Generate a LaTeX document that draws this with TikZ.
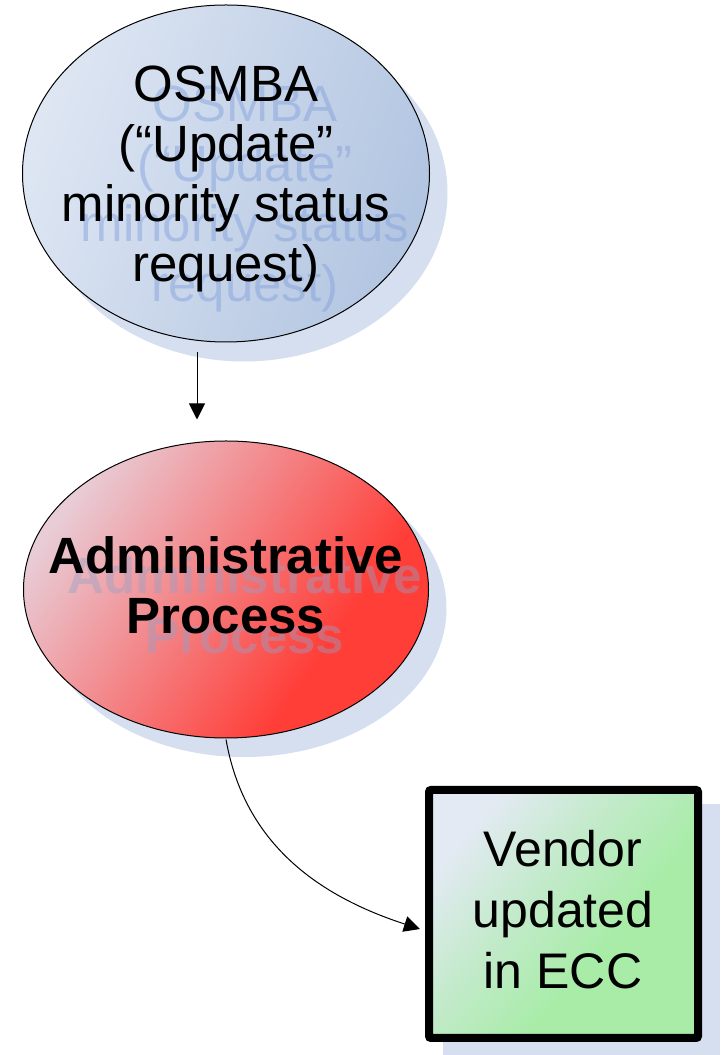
\documentclass[tikz,border=0pt]{standalone}
\usepackage{fontspec}
\setmainfont{Liberation Sans}
\usetikzlibrary{shapes.geometric,arrows.meta}
\definecolor{shadowblue}{RGB}{213,223,240}
\definecolor{blueA}{RGB}{222,230,243}
\definecolor{blueB}{RGB}{178,197,225}
\definecolor{redA}{RGB}{232,205,215}
\definecolor{redM}{RGB}{244,128,130}
\definecolor{redB}{RGB}{255,62,56}
\definecolor{greenA}{RGB}{228,234,244}
\definecolor{greenM}{RGB}{196,234,204}
\definecolor{greenB}{RGB}{168,236,168}
\definecolor{ghostblue}{RGB}{130,160,220}
\definecolor{ghostred}{RGB}{150,160,200}
\pgfdeclarehorizontalshading{redshade}{100bp}{color(0bp)=(redA); color(25bp)=(redA); color(47bp)=(redM); color(66bp)=(redB); color(100bp)=(redB)}
\pgfdeclarehorizontalshading{greenshade}{100bp}{color(0bp)=(greenA); color(25bp)=(greenA); color(42bp)=(greenM); color(60bp)=(greenB); color(100bp)=(greenB)}
\tikzset{
  bigtext/.style={font=\fontsize{51}{60}\selectfont, align=center, inner sep=0pt},
  shadowshape/.style={fill=shadowblue, draw=none},
  arr/.style={draw=black, line width=1pt, -{Triangle[length=16pt,width=16pt]}},
}
\begin{document}
\begin{tikzpicture}[x=1pt,y=1pt]
\useasboundingbox (0,0) rectangle (721,1055);
% ---- top ellipse ----
\node[ellipse, shadowshape, minimum width=407pt, minimum height=337pt, inner sep=0pt] (osmbash) at (244,862) {};
\node[ellipse, draw=black, line width=1pt, top color=blueA, bottom color=blueB, shading angle=70,
      minimum width=407pt, minimum height=337pt, inner sep=0pt] (osmba) at (226,881.5) {};
\node[bigtext, text=ghostblue, text opacity=0.47] (osmbaghost) at (245,856) {OSMBA\\(“Update”\\minority status\\request)};
\node[bigtext] (osmbatext) at (226,876) {OSMBA\\(“Update”\\minority status\\request)};
% ---- admin ellipse ----
\node[ellipse, shadowshape, minimum width=405pt, minimum height=297pt, inner sep=0pt] (adminsh) at (244,446.5) {};
\node[ellipse, draw=black, line width=1pt, shading=redshade, shading angle=-35,
      minimum width=405pt, minimum height=297pt, inner sep=0pt] (admin) at (226,465.5) {};
\node[bigtext, font=\fontsize{51}{60}\selectfont\bfseries, text=ghostred, text opacity=0.42] (adminghost) at (245,449.5) {Administrative\\Process};
\node[bigtext, font=\fontsize{51}{60}\selectfont\bfseries] (admintext) at (226,469.5) {Administrative\\Process};
% ---- vendor box ----
\fill[shadowblue] (443,-5) rectangle (720,251);
\node[rectangle, draw=black, line width=8pt, rounded corners=2pt, shading=greenshade, shading angle=-40,
      minimum width=269pt, minimum height=248pt, inner sep=0pt] (vendor) at (563.5,141) {};
\node[bigtext, font=\fontsize{50}{61}\selectfont] (vendortext) at (563,145.5) {Vendor\\updated\\in ECC};
% ---- connectors ----
\coordinate (a1) at ([xshift=-29pt,yshift=-10pt]osmba.south);
\coordinate (a2) at ([xshift=-29pt,yshift=21pt]admin.north);
\draw[arr] (a1) -- (a2);
\coordinate (c1) at ([yshift=-1pt]admin.south);
\coordinate (c2) at ([xshift=-5pt,yshift=-15pt]vendor.west);
\draw[arr] (c1) to[out=-80, in=162] (c2);
\end{tikzpicture}
\end{document}
